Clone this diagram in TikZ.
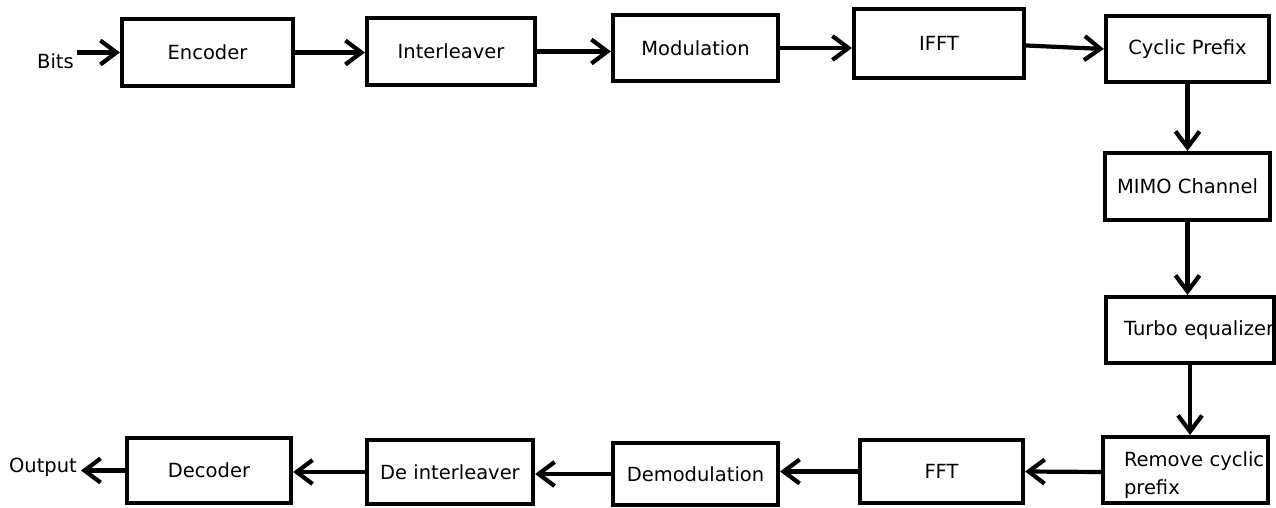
\documentclass[tikz,border=0pt]{standalone}
\usepackage{fontspec}
\setmainfont{DejaVu Sans}
\usetikzlibrary{arrows.meta}
\tikzset{
  blk/.style={draw=black, line width=4.2pt, inner sep=0pt, font=\fontsize{19.5}{28}\selectfont},
  lbl/.style={inner sep=0pt, font=\fontsize{19.5}{28}\selectfont},
  arr/.style={line width=4.2pt, -{Straight Barb[length=16pt,width=24pt,line width=4.2pt]}}
}
\begin{document}
\begin{tikzpicture}[x=1pt,y=-1pt]
\useasboundingbox (0,0) rectangle (1276,508);
% top row
\node[blk, minimum width=171pt, minimum height=67pt] (enc) at (207.5,52.5) {Encoder};
\node[blk, minimum width=168pt, minimum height=67pt] (intl) at (451,51.5) {Interleaver};
\node[blk, minimum width=165pt, minimum height=66pt] (mod) at (695.5,48) {Modulation};
\node[blk, minimum width=170pt, minimum height=69pt] (ifft) at (939,43.5) {IFFT};
\node[blk, minimum width=163pt, minimum height=66pt] (cp) at (1187.5,49) {Cyclic Prefix};
% right column
\node[blk, minimum width=165pt, minimum height=67pt] (mimo) at (1187.5,186.5) {MIMO Channel};
\node[blk, minimum width=168pt, minimum height=66pt, text width=168pt, align=right] (turbo) at (1190,330) {Turbo equalizer};
% bottom row
\node[blk, minimum width=161pt, minimum height=66pt, text width=165pt, align=left] (rcp) at (1185.5,470) {\rule{0pt}{25pt}\hspace*{21pt}Remove cyclic\\\hspace*{21pt}prefix};
\node[blk, minimum width=163pt, minimum height=63pt] (fft) at (941.5,471.5) {FFT};
\node[blk, minimum width=165pt, minimum height=62pt] (demod) at (695.5,474) {Demodulation};
\node[blk, minimum width=166pt, minimum height=64pt] (deint) at (450,472) {De interleaver};
\node[blk, minimum width=164pt, minimum height=65pt] (dec) at (209,470.5) {Decoder};
% labels
\node[lbl] (bits) at (55.5,61) {Bits};
\node[lbl] (out) at (43,467) {Output};
% connectors
\draw[arr] ([xshift=3pt]bits.east |- enc.west) -- (enc.west);
\draw[arr] (enc.east) -- (enc.east -| intl.west);
\draw[arr] (intl.east) -- (intl.east -| mod.west);
\draw[arr] (mod.east) -- (mod.east -| ifft.west);
\draw[arr] ([yshift=-2pt]ifft.east) -- (cp.west);
\draw[arr] (cp.south) -- (cp.south |- mimo.north);
\draw[arr] (mimo.south) -- (mimo.south |- turbo.north);
\draw[arr] (turbo.south) -- (turbo.south |- rcp.north);
\draw[arr] ([yshift=-2pt]rcp.west) -- (fft.east);
\draw[arr] (fft.west) -- (fft.west -| demod.east);
\draw[arr] (demod.west) -- (demod.west -| deint.east);
\draw[arr] (deint.west) -- (deint.west -| dec.east);
\draw[arr] (dec.west) -- ([xshift=4pt]out.east |- dec.west);
\end{tikzpicture}
\end{document}
